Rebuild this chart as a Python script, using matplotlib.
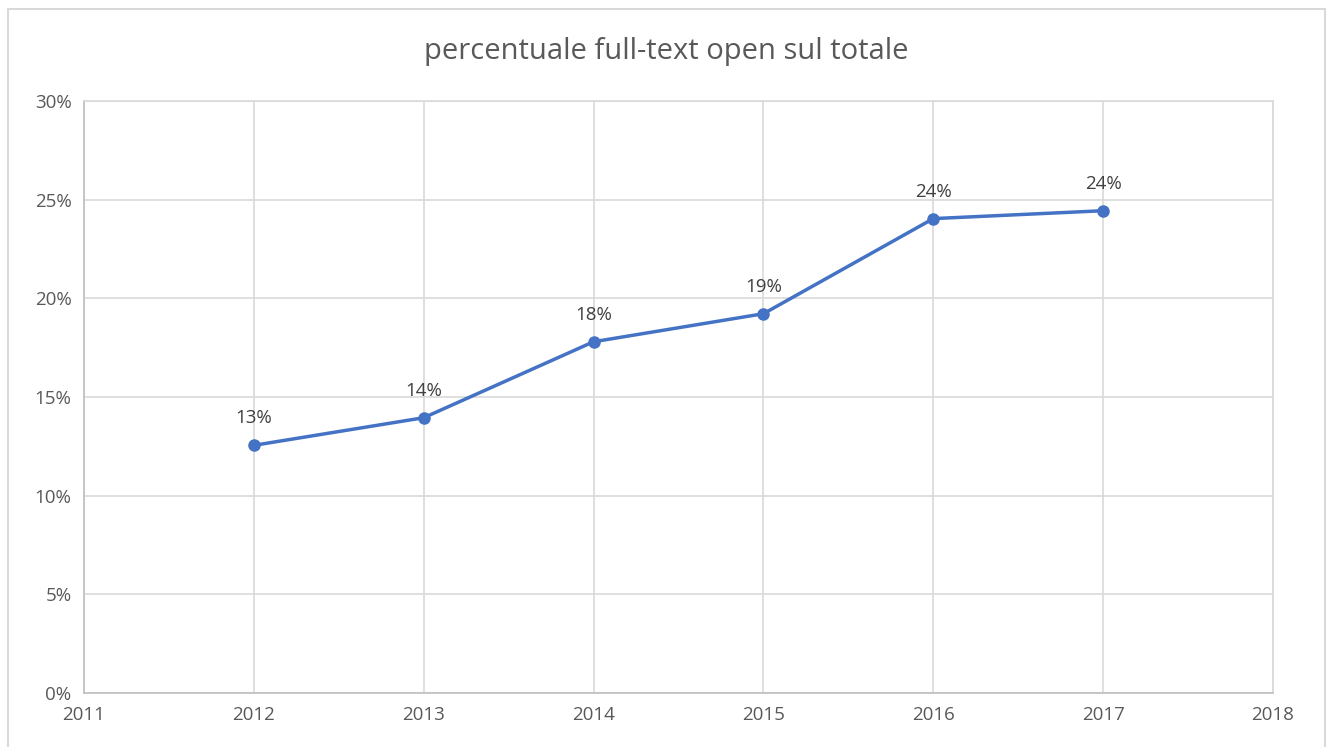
import matplotlib.pyplot as plt
from matplotlib.patches import Rectangle
from matplotlib.ticker import FuncFormatter

# Chart data
anni = [2012, 2013, 2014, 2015, 2016, 2017]
percentuali = [12.55, 13.95, 17.8, 19.22, 24.04, 24.44]
etichette = ["13%", "14%", "18%", "19%", "24%", "24%"]

plt.rcParams['font.family'] = ['Open Sans', 'DejaVu Sans']

fig = plt.figure(figsize=(13.3, 7.47), dpi=100)
ax = fig.add_axes([84 / 1330, 1 - 693 / 747, (1273 - 84) / 1330, (693 - 101) / 747])

# outer chart frame
fig.patches.append(Rectangle((8 / 1330, -0.01), (1325 - 8) / 1330, 1 - 9 / 747 + 0.01,
                             transform=fig.transFigure, fill=False,
                             edgecolor='#d9d9d9', linewidth=1.5))

ax.plot(anni, percentuali, color='#4472c4', linewidth=2.5, marker='o',
        markersize=8, zorder=3)
for x, y, t in zip(anni, percentuali, etichette):
    ax.annotate(t, (x, y), xytext=(0, 13), textcoords='offset points',
                ha='center', va='bottom', fontsize=13.5, color='#404040')

ax.set_xlim(2011, 2018)
ax.set_ylim(0, 30)
ax.set_xticks(range(2011, 2019))
ax.set_yticks(range(0, 31, 5))
ax.yaxis.set_major_formatter(FuncFormatter(lambda v, p: f"{int(v)}%"))
ax.grid(True, color='#d9d9d9', linewidth=1.2)
ax.set_axisbelow(True)
for s in ax.spines.values():
    s.set_color('#d9d9d9')
    s.set_linewidth(1.2)
ax.spines['left'].set_color('#bfbfbf')
ax.spines['bottom'].set_color('#bfbfbf')
ax.tick_params(length=0, labelsize=13.5, labelcolor='#595959', pad=9)

fig.text((412 + 921) / 2 / 1330, 1 - 52 / 747, "percentuale full-text open sul totale",
         ha='center', va='center', fontsize=21, color='#595959')

fig.savefig('out.png', dpi=100)
